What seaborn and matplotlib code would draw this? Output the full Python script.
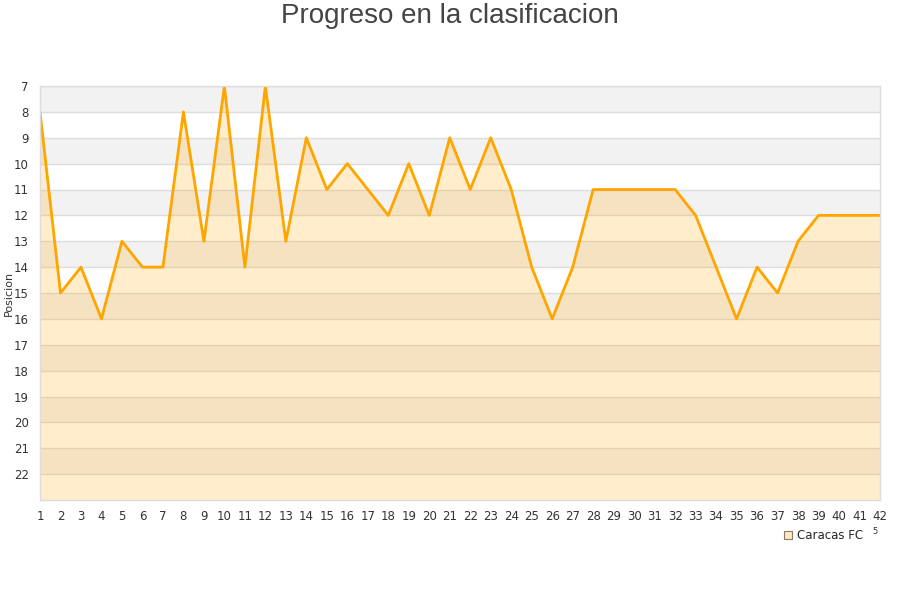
import pandas as pd
import matplotlib
matplotlib.use("Agg")
import matplotlib.pyplot as plt
import seaborn as sns
from matplotlib.lines import Line2D

# data
jornadas = list(range(1, 43))
posicion = [8, 15, 14, 16, 13, 14, 14, 8, 13, 7, 14, 7, 13, 9, 11, 10, 11, 12, 10, 12,
            9, 11, 9, 11, 14, 16, 14, 11, 11, 11, 11, 11, 12, 14, 16, 14, 15, 13, 12, 12,
            12, 12]
y_ticks = list(range(7, 23))
equipo = "Caracas FC"

df = pd.DataFrame({"Jornada": jornadas, "Posicion": posicion})

sns.set_theme(style="white")
plt.rcParams['font.family'] = ['DejaVu Sans']

fig = plt.figure(figsize=(9, 6), dpi=100)
ax = fig.add_axes([40 / 900, 1 - 500 / 600, 840 / 900, 414 / 600])

# alternating bands
for i, y in enumerate(range(7, 23)):
    if i % 2 == 0:
        ax.axhspan(y, y + 1, color="#f2f2f2", lw=0, zorder=0)
    ax.axhline(y, color="#dddddd", lw=1, zorder=0.5)

ax.fill_between(df["Jornada"], df["Posicion"], 23, color="#ffa500", alpha=0.2, lw=0, zorder=1)
sns.lineplot(data=df, x="Jornada", y="Posicion", color="#ffa500", lw=2, ax=ax, zorder=2)

ax.set_xlim(1, 42)
ax.set_ylim(23, 7)
ax.set_xticks(jornadas)
ax.set_yticks(y_ticks)
ax.tick_params(axis="both", labelsize=8.5, colors="#333333", length=0)
ax.tick_params(axis="y", pad=8)
ax.tick_params(axis="x", pad=7)
ax.set_xlabel("")
ax.set_ylabel("Posicion", fontsize=8, color="#333333")
ax.yaxis.set_label_coords(-26 / 840, 0.5)
for side, sp in ax.spines.items():
    sp.set_color("#dddddd")
    sp.set_linewidth(1)

fig.text(0.5, 1 - 16 / 600, "Progreso en la clasificacion", fontsize=20, color="#444444",
         ha="center", va="center", family=["Liberation Sans", "DejaVu Sans"])

handle = Line2D([], [], marker="s", ls="", markersize=6, markerfacecolor="#ffe6bf",
                markeredgecolor="#8a7a66", markeredgewidth=0.8)
fig.legend([handle], [equipo], loc="center", bbox_to_anchor=(0.914, 0.107),
           frameon=False, fontsize=8.5, handletextpad=0.3, handlelength=1)
fig.text(875 / 900, 1 - 531 / 600, "5", fontsize=6, color="#333333", ha="center", va="center")

fig.savefig("out.png", dpi=100)
